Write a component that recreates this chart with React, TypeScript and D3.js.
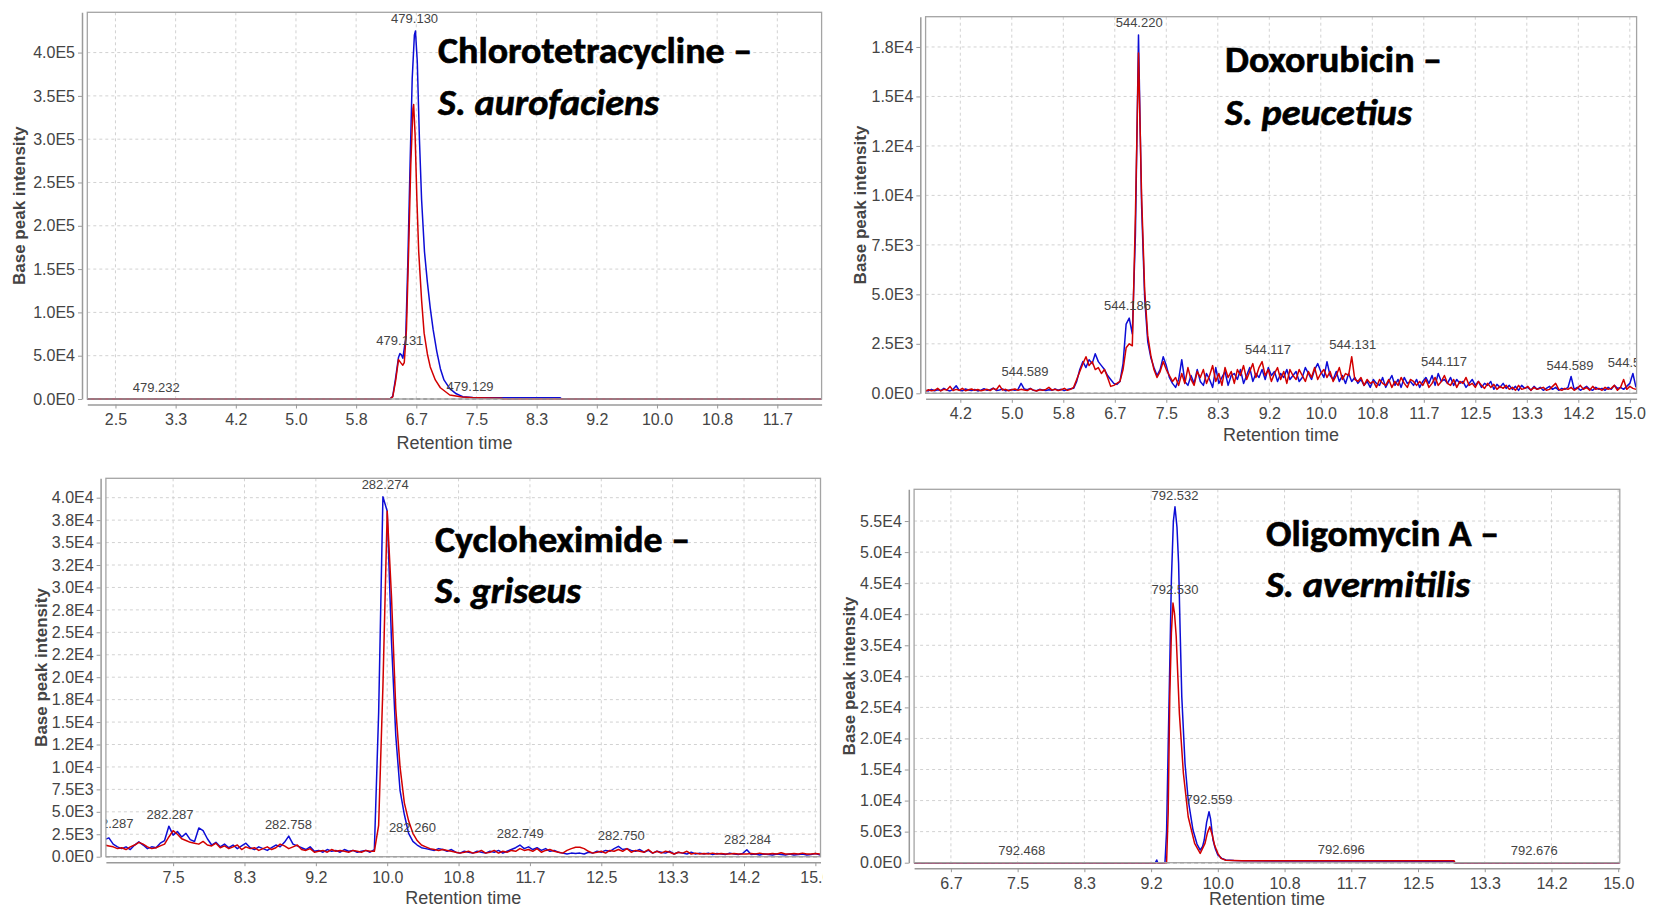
import React, { useEffect, useRef } from 'react';
import * as d3 from 'd3';

type Pt = [number, number];

// Chlorotetracycline – S. aurofaciens  [retention time (min), base peak intensity]
const chloroBlue: Pt[] = [
  [2.11, 0], [6.3, 0], [6.34, 3000], [6.38, 24000], [6.42, 48000], [6.44, 52500], [6.46, 51000],
  [6.48, 47000], [6.52, 70000], [6.55, 160000], [6.58, 270000], [6.61, 370000], [6.64, 420000],
  [6.655, 425000], [6.68, 390000], [6.71, 300000], [6.74, 230000], [6.78, 170000], [6.82, 135000],
  [6.86, 105000], [6.9, 80000], [6.95, 55000], [7.0, 35000], [7.05, 22000], [7.13, 12000],
  [7.22, 6000], [7.31, 2700], [7.45, 1800], [8.0, 1500], [8.66, 1400], [8.68, 0], [12.28, 0],
];
const chloroRed: Pt[] = [
  [2.11, 0], [6.3, 0], [6.34, 2500], [6.38, 21000], [6.42, 45500], [6.45, 42000], [6.48, 39000],
  [6.5, 42000], [6.53, 80000], [6.56, 170000], [6.59, 270000], [6.62, 335000], [6.63, 340000],
  [6.65, 305000], [6.675, 230000], [6.7, 170000], [6.74, 114000], [6.775, 76000], [6.82, 52000],
  [6.86, 37000], [6.93, 22000], [7.0, 13000], [7.13, 4600], [7.3, 2200], [7.5, 1300], [7.85, 900],
  [7.87, 0], [12.28, 0],
];
const chloroXTicks = [2.5, 3.3333, 4.1667, 5.0, 5.8333, 6.6667, 7.5, 8.3333, 9.1667, 10.0, 10.8333, 11.6667];
const chloroXLabels = ['2.5', '3.3', '4.2', '5.0', '5.8', '6.7', '7.5', '8.3', '9.2', '10.0', '10.8', '11.7'];
const chloroYTicks = [0, 50000, 100000, 150000, 200000, 250000, 300000, 350000, 400000];
const chloroYLabels = ['0.0E0', '5.0E4', '1.0E5', '1.5E5', '2.0E5', '2.5E5', '3.0E5', '3.5E5', '4.0E5'];
const chloroPeaks = [
  { t: 6.643, v: 439400, text: '479.130' },
  { t: 6.439, v: 66970, text: '479.131' },
  { t: 7.412, v: 14430, text: '479.129' },
  { t: 3.065, v: 13280, text: '479.232' },
];

// Doxorubicin – S. peucetius, one value per scan
const doxoScanStart = 3.6;
const doxoScanStep = 0.05;
const doxoBlue = [
  150, 120, 200, 130, 180, 140, 250, 160, 120, 200,
  380, 150, 130, 220, 170, 140, 190, 120, 160, 230,
  150, 180, 260, 140, 170, 220, 130, 160, 190, 150,
  200, 500, 220, 180, 250, 150, 130, 200, 170, 140,
  180, 150, 220, 160, 200, 140, 190, 230, 250, 600,
  1200, 1600, 1300, 1700, 1500, 2000, 1600, 1400, 1200, 900,
  700, 500, 450, 600, 1500, 3500, 3800, 3000, 8000, 18100,
  9500, 4800, 2600, 1800, 1300, 900, 1200, 1850, 1400, 800,
  500, 300, 700, 1700, 600, 400, 900, 500, 1200, 600,
  400, 1000, 700, 300, 1300, 500, 800, 1100, 400, 900,
  1000, 700, 1200, 500, 900, 1300, 600, 1000, 800, 1200,
  700, 1300, 900, 1100, 600, 1000, 800, 1200, 700, 900,
  1100, 600, 800, 1300, 1000, 700, 1200, 1500, 1100, 800,
  1600, 900, 700, 1100, 600, 900, 500, 1000, 600, 800,
  500, 700, 400, 600, 300, 700, 500, 400, 800, 300,
  600, 900, 400, 700, 300, 800, 500, 600, 400, 700,
  300, 600, 800, 500, 900, 400, 1000, 600, 700, 500,
  800, 400, 700, 500, 600, 300, 500, 700, 400, 600,
  300, 500, 400, 600, 200, 450, 300, 500, 250, 400,
  200, 350, 150, 400, 250, 300, 150, 350, 200, 300,
  150, 250, 350, 200, 300, 150, 250, 200, 300, 850,
  200, 300, 150, 250, 350, 200, 150, 300, 200, 250,
  150, 300, 200, 400, 250, 300, 200, 350, 500, 1000,
  300,
];
const doxoRed = [
  100, 180, 130, 150, 250, 120, 200, 170, 350, 140,
  200, 150, 250, 130, 180, 220, 150, 190, 130, 170,
  200, 140, 250, 180, 400, 160, 200, 130, 180, 220,
  150, 200, 170, 140, 230, 160, 120, 180, 150, 200,
  300, 160, 200, 140, 180, 250, 150, 200, 300, 700,
  1100, 1500, 1850, 1400, 1600, 1200, 1300, 1000, 1200, 800,
  350, 400, 500, 600, 1200, 2300, 2500, 2400, 9000, 17200,
  10000, 5200, 2900, 1900, 1200, 800, 1100, 1600, 1200, 900,
  600, 800, 400, 1000, 500, 1300, 700, 400, 1100, 800,
  1200, 500, 900, 1400, 600, 1000, 400, 1300, 800, 1100,
  500, 1200, 900, 1400, 700, 1100, 1500, 800, 1300, 1600,
  900, 1200, 600, 1000, 1300, 700, 1100, 500, 1200, 900,
  700, 1200, 900, 600, 1100, 800, 1300, 700, 1000, 1200,
  800, 1100, 600, 900, 1300, 700, 1000, 900, 1850, 700,
  600, 800, 400, 700, 500, 600, 300, 700, 500, 400,
  700, 300, 600, 400, 800, 500, 300, 700, 600, 400,
  600, 400, 700, 300, 500, 800, 400, 600, 900, 500,
  400, 700, 300, 600, 500, 800, 400, 500, 300, 600,
  400, 250, 500, 300, 450, 200, 350, 250, 400, 200,
  300, 150, 400, 200, 250, 350, 150, 300, 200, 250,
  300, 150, 200, 350, 500, 200, 150, 250, 200, 300,
  150, 250, 400, 200, 300, 150, 350, 200, 250, 150,
  300, 200, 250, 400, 150, 300, 700, 200, 350, 250,
  200,
];
const doxoXTicks = [4.1667, 5.0, 5.8333, 6.6667, 7.5, 8.3333, 9.1667, 10.0, 10.8333, 11.6667, 12.5, 13.3333, 14.1667, 15.0];
const doxoXLabels = ['4.2', '5.0', '5.8', '6.7', '7.5', '8.3', '9.2', '10.0', '10.8', '11.7', '12.5', '13.3', '14.2', '15.0'];
const doxoYTicks = [0, 2500, 5000, 7500, 10000, 12500, 15000, 17500];
const doxoYLabels = ['0.0E0', '2.5E3', '5.0E3', '7.5E3', '1.0E4', '1.2E4', '1.5E4', '1.8E4'];
const doxoPeaks = [
  { t: 7.061, v: 18755, text: '544.220' },
  { t: 6.872, v: 4412, text: '544.186' },
  { t: 5.213, v: 1112, text: '544.589' },
  { t: 9.146, v: 2214, text: '544.117' },
  { t: 10.516, v: 2476, text: '544.131' },
  { t: 11.993, v: 1597, text: '544.117' },
  { t: 14.032, v: 1395, text: '544.589' },
  { t: 15.024, v: 1547, text: '544.589' },
];

// Cycloheximide – S. griseus, one value per scan
const cycloScanStart = 6.7;
const cycloScanStep = 0.05;
const cycloBlue = [
  1900, 2100, 1400, 1100, 900, 1100, 800, 1300, 1650, 1300,
  900, 1100, 1000, 1500, 1800, 3400, 2400, 2800, 2200, 2600,
  1900, 1700, 3200, 2900, 2000, 1300, 1600, 1100, 1400, 1000,
  1300, 900, 1200, 1500, 1000, 800, 1100, 900, 700, 1000,
  1300, 1100, 1600, 2300, 1400, 1200, 1000, 800, 1100, 600,
  700, 500, 800, 600, 700, 500, 800, 600, 700, 500,
  600, 700, 500, 800, 16000, 40100, 38500, 24000, 13500, 7400,
  4700, 2600, 1700, 1300, 1000, 900, 800, 700, 900, 800,
  600, 800, 500, 400, 600, 500, 400, 600, 500, 400,
  600, 500, 700, 400, 600, 800, 1000, 1300, 900, 1100,
  800, 1000, 700, 900, 600, 700, 500, 400, 300, 400,
  350, 400, 300, 500, 400, 600, 500, 700, 600, 900,
  1150, 800, 900, 700, 600, 800, 500, 700, 400, 600,
  500, 400, 600, 300, 500, 400, 300, 500, 300, 400,
  300, 400, 250, 350, 300, 250, 400, 300, 250, 350,
  780, 250, 300, 200, 300, 250, 200, 300, 250, 200,
  300, 200, 250, 300, 200, 250, 350, 200, 250,
];
const cycloRed = [
  1300, 1200, 1100, 900, 1000, 800, 1100, 1300, 1600, 1400,
  1100, 900, 1000, 1200, 1400, 2200, 2900, 2500, 2000, 1800,
  1600, 1500, 1400, 1700, 1300, 1200, 1500, 1000, 1200, 900,
  1100, 1300, 800, 1100, 900, 1000, 700, 900, 1100, 800,
  1000, 1400, 1200, 900, 1100, 1300, 800, 700, 900, 500,
  600, 700, 500, 800, 600, 700, 600, 500, 700, 600,
  500, 700, 600, 600, 3500, 19000, 38500, 29000, 16500, 10000,
  6000, 4000, 2600, 1800, 1300, 1100, 900, 800, 700, 800,
  700, 600, 500, 400, 500, 600, 400, 500, 700, 400,
  500, 700, 400, 600, 500, 700, 600, 900, 700, 800,
  600, 900, 500, 700, 800, 600, 500, 400, 700, 900,
  1050, 1050, 900, 600, 400, 500, 600, 400, 700, 600,
  800, 600, 900, 500, 700, 600, 500, 800, 400, 600,
  400, 600, 500, 300, 500, 400, 600, 300, 400, 300,
  350, 300, 400, 300, 350, 300, 300, 350, 300, 300,
  300, 350, 300, 400, 300, 300, 350, 300, 450, 300,
  300, 350, 300, 400, 300, 300, 350, 300, 350,
];
const cycloXTicks = [7.5, 8.3333, 9.1667, 10.0, 10.8333, 11.6667, 12.5, 13.3333, 14.1667, 15.0];
const cycloXLabels = ['7.5', '8.3', '9.2', '10.0', '10.8', '11.7', '12.5', '13.3', '14.2', '15.0'];
const cycloYTicks = [0, 2500, 5000, 7500, 10000, 12500, 15000, 17500, 20000, 22500, 25000, 27500, 30000, 32500, 35000, 37500, 40000];
const cycloYLabels = ['0.0E0', '2.5E3', '5.0E3', '7.5E3', '1.0E4', '1.2E4', '1.5E4', '1.8E4', '2.0E4', '2.2E4', '2.5E4', '2.8E4', '3.0E4', '3.2E4', '3.5E4', '3.8E4', '4.0E4'];
const cycloPeaks = [
  { t: 9.976, v: 41500, text: '282.274' },
  { t: 6.763, v: 3721, text: '282.287' },
  { t: 7.464, v: 4723, text: '282.287' },
  { t: 8.846, v: 3643, text: '282.758' },
  { t: 10.294, v: 3231, text: '282.260' },
  { t: 11.553, v: 2607, text: '282.749' },
  { t: 12.733, v: 2417, text: '282.750' },
  { t: 14.208, v: 1972, text: '282.284' },
];

// Oligomycin A – S. avermitilis
const oligoBlue: Pt[] = [
  [6.207, 0], [9.22, 0], [9.237, 430], [9.25, 0], [9.34, 0], [9.36, 5000], [9.38, 18700], [9.4, 32000],
  [9.42, 45500], [9.445, 55000], [9.465, 57300], [9.49, 54000], [9.51, 48200], [9.53, 37000],
  [9.55, 26700], [9.59, 16000], [9.63, 10100], [9.69, 5260], [9.74, 3000], [9.78, 2040], [9.81, 2600],
  [9.83, 3650], [9.86, 6500], [9.89, 8200], [9.91, 7000], [9.94, 3650], [9.97, 2200], [10.0, 1240],
  [10.05, 700], [10.1, 430], [10.2, 350], [10.32, 300], [12.95, 250], [12.96, 0], [15.02, 0],
];
const oligoRed: Pt[] = [
  [6.207, 0], [9.36, 0], [9.38, 8000], [9.4, 26700], [9.42, 37000], [9.44, 41800], [9.46, 40000],
  [9.48, 36500], [9.52, 24000], [9.57, 14400], [9.63, 7400], [9.71, 3100], [9.78, 1500], [9.84, 3100],
  [9.87, 4800], [9.9, 5800], [9.93, 4500], [9.96, 2800], [10.0, 1500], [10.04, 700], [10.1, 400],
  [10.3, 300], [12.95, 300], [12.96, 0], [15.02, 0],
];
const oligoXTicks = [6.6667, 7.5, 8.3333, 9.1667, 10.0, 10.8333, 11.6667, 12.5, 13.3333, 14.1667, 15.0];
const oligoXLabels = ['6.7', '7.5', '8.3', '9.2', '10.0', '10.8', '11.7', '12.5', '13.3', '14.2', '15.0'];
const oligoYTicks = [0, 5000, 10000, 15000, 20000, 25000, 30000, 35000, 40000, 45000, 50000, 55000];
const oligoYLabels = ['0.0E0', '5.0E3', '1.0E4', '1.5E4', '2.0E4', '2.5E4', '3.0E4', '3.5E4', '4.0E4', '4.5E4', '5.0E4', '5.5E4'];
const oligoPeaks = [
  { t: 9.465, v: 59190, text: '792.532' },
  { t: 9.465, v: 44010, text: '792.530' },
  { t: 9.89, v: 10206, text: '792.559' },
  { t: 7.552, v: 2044, text: '792.468' },
  { t: 11.542, v: 2205, text: '792.696' },
  { t: 13.951, v: 1932, text: '792.676' },
];

const scans = (start: number, step: number, vals: number[]): Pt[] =>
  vals.map((v, i) => [start + i * step, v]);

const BLUE = '#0d0dd6';
const RED = '#d20000';
const FONT = '"Liberation Sans", Arial, sans-serif';
const TITLE_FONT = 'Carlito, Calibri, Lato, sans-serif';

const panels = [
  {
    blue: chloroBlue, red: chloroRed,
    xTicks: chloroXTicks, xLabels: chloroXLabels, yTicks: chloroYTicks, yLabels: chloroYLabels, peaks: chloroPeaks,
    xDomain: [2.11, 12.28], yMax: 446500,
    left: 87.3, right: 821.6, top: 12.3, zero: 399,
    clip: [0, 0, 830, 455], yTitleX: 19.6, xTitleY: 443,
    title: { x: 438, lines: [
      { text: 'Chlorotetracycline –', y: 63, w: 314, italic: false },
      { text: 'S. aurofaciens', y: 115, w: 221, italic: true },
    ] },
  },
  {
    blue: scans(doxoScanStart, doxoScanStep, doxoBlue), red: scans(doxoScanStart, doxoScanStep, doxoRed),
    xTicks: doxoXTicks, xLabels: doxoXLabels, yTicks: doxoYTicks, yLabels: doxoYLabels, peaks: doxoPeaks,
    xDomain: [3.605, 15.11], yMax: 19030,
    left: 925.6, right: 1636.6, top: 16.7, zero: 393.3,
    clip: [830, 0, 824, 455], yTitleX: 860, xTitleY: 435,
    title: { x: 1225, lines: [
      { text: 'Doxorubicin –', y: 71.5, w: 217, italic: false },
      { text: 'S. peucetius', y: 125, w: 187, italic: true },
    ] },
  },
  {
    blue: scans(cycloScanStart, cycloScanStep, cycloBlue), red: scans(cycloScanStart, cycloScanStep, cycloRed),
    xTicks: cycloXTicks, xLabels: cycloXLabels, yTicks: cycloYTicks, yLabels: cycloYLabels, peaks: cycloPeaks,
    xDomain: [6.715, 15.06], yMax: 42160,
    left: 105.9, right: 820.5, top: 478.3, zero: 856.7,
    clip: [0, 455, 823, 455], yTitleX: 41.3, xTitleY: 898,
    title: { x: 435, lines: [
      { text: 'Cycloheximide –', y: 552, w: 255, italic: false },
      { text: 'S. griseus', y: 603, w: 146, italic: true },
    ] },
  },
  {
    blue: oligoBlue, red: oligoRed,
    xTicks: oligoXTicks, xLabels: oligoXLabels, yTicks: oligoYTicks, yLabels: oligoYLabels, peaks: oligoPeaks,
    xDomain: [6.207, 15.02], yMax: 60110,
    left: 914.1, right: 1619.8, top: 489.3, zero: 862.7,
    clip: [830, 455, 824, 455], yTitleX: 849.4, xTitleY: 899,
    title: { x: 1266, lines: [
      { text: 'Oligomycin A –', y: 545.5, w: 233, italic: false },
      { text: 'S. avermitilis', y: 597, w: 204, italic: true },
    ] },
  },
];

const App: React.FC = () => {
  const ref = useRef<SVGSVGElement>(null);

  useEffect(() => {
    if (!ref.current) return;
    const svg = d3.select(ref.current);
    svg.selectAll('*').remove();
    const defs = svg.append('defs');

    panels.forEach((p, i) => {
      const x = d3.scaleLinear().domain(p.xDomain).range([p.left, p.right]);
      const y = d3.scaleLinear().domain([0, p.yMax]).range([p.zero, p.top]);

      defs.append('clipPath').attr('id', `img${i}`).append('rect')
        .attr('x', p.clip[0]).attr('y', p.clip[1]).attr('width', p.clip[2]).attr('height', p.clip[3]);
      defs.append('clipPath').attr('id', `plot${i}`).append('rect')
        .attr('x', p.left).attr('y', p.top).attr('width', p.right - p.left).attr('height', p.zero - p.top + 2);

      const g = svg.append('g').attr('clip-path', `url(#img${i})`);

      // grid
      g.append('g').selectAll('line').data(p.xTicks).join('line')
        .attr('x1', (d) => x(d)).attr('x2', (d) => x(d)).attr('y1', p.top).attr('y2', p.zero)
        .attr('stroke', '#d2d2d2').attr('stroke-dasharray', '3,3');
      g.append('g').selectAll('line').data(p.yTicks).join('line')
        .attr('x1', p.left).attr('x2', p.right).attr('y1', (d) => y(d)).attr('y2', (d) => y(d))
        .attr('stroke', '#d2d2d2').attr('stroke-dasharray', '3,3');

      // traces
      const plot = g.append('g').attr('clip-path', `url(#plot${i})`);
      const line = d3.line<Pt>().x((d) => x(d[0])).y((d) => y(d[1]));
      plot.append('path').datum(p.blue).attr('d', line).attr('fill', 'none')
        .attr('stroke', BLUE).attr('stroke-width', 1.5).attr('stroke-linejoin', 'round');
      plot.append('path').datum(p.red).attr('d', line).attr('fill', 'none')
        .attr('stroke', RED).attr('stroke-width', 1.5).attr('stroke-linejoin', 'round');

      // zero marker
      plot.append('line').attr('x1', p.left).attr('x2', p.right).attr('y1', y(0)).attr('y2', y(0))
        .attr('stroke', '#555').attr('stroke-width', 1.2).attr('stroke-dasharray', '4,3');

      // peak m/z labels
      plot.append('g').selectAll('text').data(p.peaks).join('text')
        .attr('x', (d) => x(d.t)).attr('y', (d) => y(d.v))
        .attr('text-anchor', 'middle').attr('dominant-baseline', 'central')
        .attr('font-family', FONT).attr('font-size', 13).attr('fill', '#444')
        .text((d) => d.text);

      // plot outline
      g.append('rect').attr('x', p.left).attr('y', p.top)
        .attr('width', p.right - p.left).attr('height', p.zero - p.top)
        .attr('fill', 'none').attr('stroke', '#a4a4a4').attr('stroke-width', 1.3);

      // axes
      const xAxis = d3.axisBottom(x).tickValues(p.xTicks)
        .tickFormat((_, j) => p.xLabels[j]).tickSizeInner(4).tickSizeOuter(0).tickPadding(5);
      const ax = g.append('g').attr('transform', `translate(0,${p.zero + 5.5})`).call(xAxis)
        .attr('font-family', FONT).attr('font-size', 16);
      ax.select('.domain').attr('stroke', '#9a9a9a').attr('stroke-width', 1.5);
      ax.selectAll('.tick line').attr('stroke', '#9a9a9a');
      ax.selectAll('.tick text').attr('fill', '#444');

      const yAxis = d3.axisLeft(y).tickValues(p.yTicks)
        .tickFormat((_, j) => p.yLabels[j]).tickSizeInner(4).tickSizeOuter(0).tickPadding(3);
      const ay = g.append('g').attr('transform', `translate(${p.left - 5.3},0)`).call(yAxis)
        .attr('font-family', FONT).attr('font-size', 16);
      ay.select('.domain').attr('stroke', '#9a9a9a').attr('stroke-width', 1.5);
      ay.selectAll('.tick line').attr('stroke', '#9a9a9a');
      ay.selectAll('.tick text').attr('fill', '#444');

      // axis titles
      g.append('text')
        .attr('transform', `translate(${p.yTitleX},${(p.top + p.zero) / 2}) rotate(-90)`)
        .attr('text-anchor', 'middle').attr('dominant-baseline', 'central')
        .attr('font-family', FONT).attr('font-size', 17).attr('font-weight', 700).attr('fill', '#444')
        .text('Base peak intensity');
      g.append('text')
        .attr('x', (p.left + p.right) / 2).attr('y', p.xTitleY)
        .attr('text-anchor', 'middle').attr('dominant-baseline', 'central')
        .attr('font-family', FONT).attr('font-size', 18).attr('fill', '#444')
        .text('Retention time');

      // compound / organism caption
      p.title.lines.forEach((l) => {
        svg.append('text')
          .attr('x', p.title.x).attr('y', l.y)
          .attr('font-family', TITLE_FONT).attr('font-size', 36).attr('font-weight', 700)
          .attr('font-style', l.italic ? 'italic' : 'normal').attr('fill', '#000')
          .attr('stroke', '#000').attr('stroke-width', 0.6)
          .attr('textLength', l.w).attr('lengthAdjust', 'spacingAndGlyphs')
          .text(l.text);
      });
    });
  }, []);

  return (
    <svg
      ref={ref}
      width={1654}
      height={910}
      style={{ position: 'absolute', left: 0, top: 0, background: '#fff' }}
    />
  );
};

export default App;
